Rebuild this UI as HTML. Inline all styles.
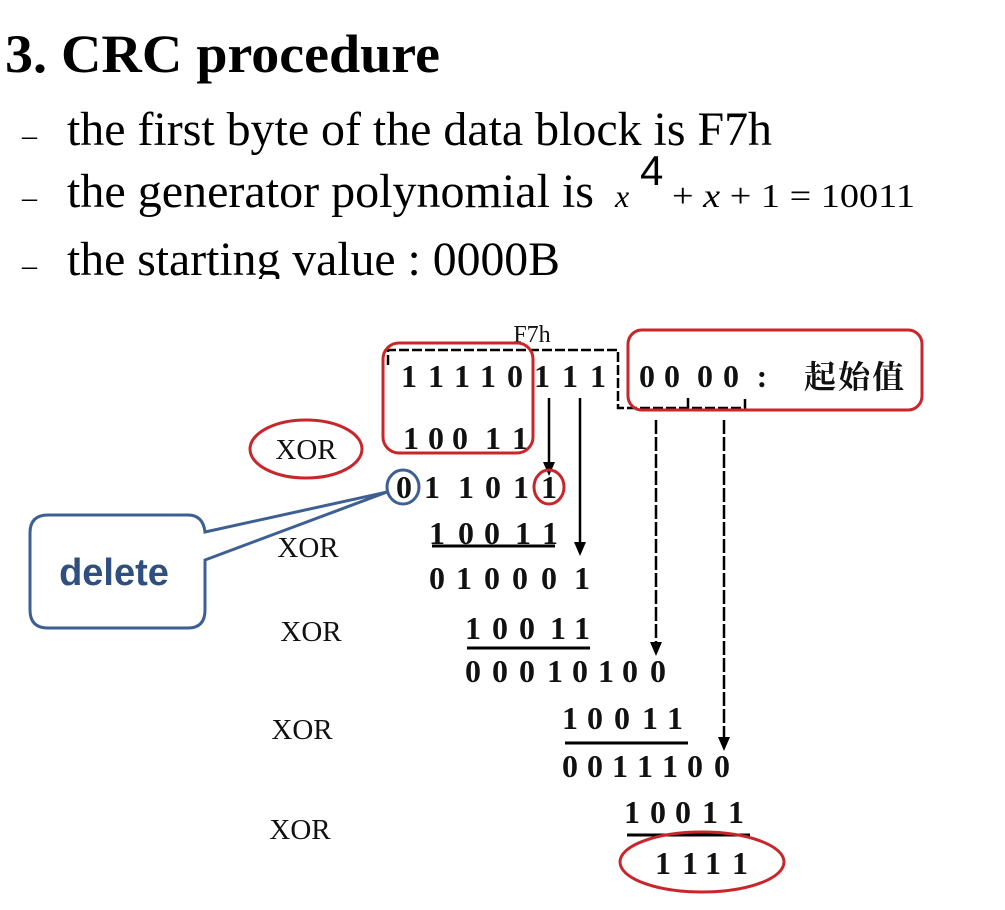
<!DOCTYPE html>
<html><head><meta charset="utf-8"><style>
html,body{margin:0;padding:0;background:#fff;}
svg{display:block}
</style></head><body>
<svg width="1005" height="910" viewBox="0 0 1005 910" xmlns="http://www.w3.org/2000/svg">
<g font-family="Liberation Serif, serif" fill="#000">
<text x="5" y="72" font-size="54" font-weight="bold" textLength="435" lengthAdjust="spacingAndGlyphs">3. CRC procedure</text>
<text x="22" y="145" font-size="30">–</text>
<text x="67" y="145" font-size="48" textLength="705" lengthAdjust="spacingAndGlyphs">the first byte of the data block is F7h</text>
<text x="22" y="207" font-size="30">–</text>
<text x="67" y="207" font-size="48" textLength="527" lengthAdjust="spacingAndGlyphs">the generator polynomial is</text>
<text x="615" y="207" font-size="32" font-style="italic">x</text>
<text x="640" y="185" font-size="42" font-family="Liberation Sans, sans-serif">4</text>
<text x="672" y="207" font-size="34" textLength="243" lengthAdjust="spacingAndGlyphs">+ <tspan font-style="italic">x</tspan> + 1 = 10011</text>
</g>
<svg x="0" y="230" width="1005" height="49" overflow="hidden">
<g font-family="Liberation Serif, serif">
<text x="22" y="45" font-size="30">–</text>
<text x="67" y="45" font-size="48" textLength="493" lengthAdjust="spacingAndGlyphs">the starting value : 0000B</text>
</g></svg>

<g font-family="Liberation Serif, serif" font-size="32" fill="#111" font-weight="bold" text-anchor="middle">
<text x="532" y="342" font-size="24" font-weight="normal">F7h</text>
<!-- row1 -->
<text x="409" y="387">1</text><text x="436" y="387">1</text><text x="462" y="387">1</text><text x="488" y="387">1</text><text x="515" y="387">0</text><text x="542" y="387">1</text><text x="570" y="387">1</text><text x="598" y="387">1</text>
<text x="647" y="387">0</text><text x="672" y="387">0</text><text x="705" y="387">0</text><text x="731" y="387">0</text><text x="762" y="387">:</text>
<text x="855" y="388" font-family="Noto Serif CJK SC, serif" font-size="32" letter-spacing="2">起始值</text>
<!-- row2 -->
<text x="411" y="449">1</text><text x="436" y="449">0</text><text x="460" y="449">0</text><text x="493" y="449">1</text><text x="520" y="449">1</text>
<!-- row3 -->
<text x="404" y="498">0</text><text x="432" y="498">1</text><text x="466" y="498">1</text><text x="493" y="498">0</text><text x="521" y="498">1</text><text x="549" y="498">1</text>
<!-- row4 -->
<text x="437" y="544">1</text><text x="466" y="544">0</text><text x="492" y="544">0</text><text x="523" y="544">1</text><text x="550" y="544">1</text>
<text x="437" y="589">0</text><text x="464" y="589">1</text><text x="492" y="589">0</text><text x="520" y="589">0</text><text x="549" y="589">0</text><text x="582" y="589">1</text>
<!-- row6 -->
<text x="473" y="639">1</text><text x="500" y="639">0</text><text x="527" y="639">0</text><text x="558" y="639">1</text><text x="582" y="639">1</text>
<text x="473" y="682">0</text><text x="500" y="682">0</text><text x="527" y="682">0</text><text x="555" y="682">1</text><text x="580" y="682">0</text><text x="606" y="682">1</text><text x="630" y="682">0</text><text x="658" y="682">0</text>
<!-- row8 -->
<text x="570" y="729">1</text><text x="595" y="729">0</text><text x="622" y="729">0</text><text x="650" y="729">1</text><text x="675" y="729">1</text>
<text x="570" y="777">0</text><text x="595" y="777">0</text><text x="620" y="777">1</text><text x="645" y="777">1</text><text x="670" y="777">1</text><text x="695" y="777">0</text><text x="722" y="777">0</text>
<!-- row10 -->
<text x="632" y="823">1</text><text x="658" y="823">0</text><text x="683" y="823">0</text><text x="710" y="823">1</text><text x="736" y="823">1</text>
<text x="663" y="874">1</text><text x="690" y="874">1</text><text x="713" y="874">1</text><text x="740" y="874">1</text>
<!-- XOR -->
<g font-size="29" font-weight="normal">
<text x="306" y="459">XOR</text>
<text x="308" y="557">XOR</text>
<text x="311" y="641">XOR</text>
<text x="302" y="739">XOR</text>
<text x="300" y="839">XOR</text>
</g>
</g>

<g stroke="#000" fill="none">
<line x1="432" y1="546" x2="555" y2="546" stroke-width="3"/>
<line x1="467" y1="648" x2="590" y2="648" stroke-width="3"/>
<line x1="565" y1="743" x2="688" y2="743" stroke-width="3"/>
<line x1="627" y1="835" x2="750" y2="835" stroke-width="3"/>
<path d="M388 365 V350 H618 V408 H745 V398" stroke-width="2.5" stroke-dasharray="10 3"/>
<line x1="688" y1="408" x2="688" y2="398" stroke-width="2.5"/>
<line x1="549" y1="398" x2="549" y2="468" stroke-width="2.5"/>
<line x1="580" y1="398" x2="580" y2="548" stroke-width="2.5"/>
<line x1="656" y1="420" x2="656" y2="648" stroke-width="2.5" stroke-dasharray="14 3"/>
<line x1="724" y1="420" x2="724" y2="743" stroke-width="2.5" stroke-dasharray="14 3"/>
</g>
<g fill="#000">
<polygon points="543,462 555,462 549,476"/>
<polygon points="574,542 586,542 580,556"/>
<polygon points="650,642 662,642 656,656"/>
<polygon points="718,737 730,737 724,751"/>
</g>

<g fill="none" stroke="#c8262a" stroke-width="3">
<rect x="383" y="343" width="150" height="110" rx="16"/>
<rect x="628" y="330" width="294" height="80" rx="14"/>
<ellipse cx="549" cy="487" rx="15" ry="17"/>
<ellipse cx="306" cy="449" rx="56" ry="29"/>
<ellipse cx="702" cy="862" rx="82" ry="30"/>
</g>
<g fill="none" stroke="#3d5f93" stroke-width="3">
<ellipse cx="403" cy="487" rx="16" ry="17"/>
<path d="M48 515 H188 Q203 515 205 532 L387 492 L205 560 V610 Q205 628 188 628 H48 Q30 628 30 610 V533 Q30 515 48 515 Z" fill="#fff"/>
</g>
<text x="114" y="585" font-family="Liberation Sans, sans-serif" font-weight="bold" font-size="38" fill="#2f4f7f" text-anchor="middle">delete</text>
</svg>
</body></html>
